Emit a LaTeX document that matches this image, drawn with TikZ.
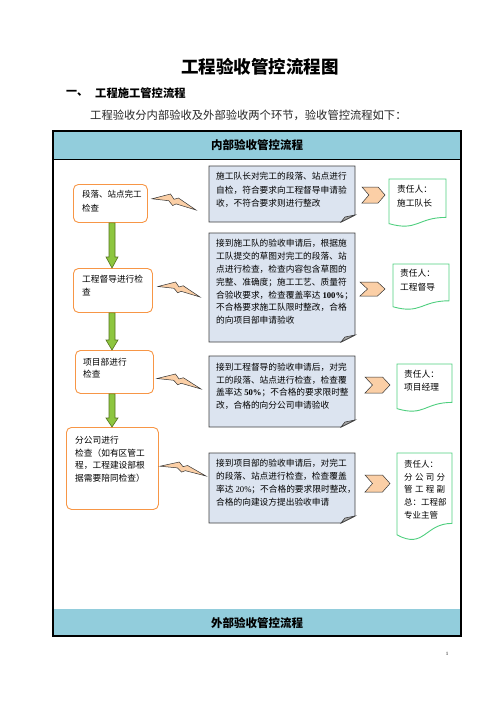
\documentclass[tikz,border=0pt]{standalone}
\usepackage{fontspec}
\setmainfont{Noto Sans CJK SC}
\newfontfamily\numfont{Liberation Serif}
\usetikzlibrary{calc}
\definecolor{hdrblue}{HTML}{92CDDC}
\definecolor{boxorange}{HTML}{F79646}
\definecolor{arrgreen}{HTML}{8DC63F}
\definecolor{arrline}{HTML}{56731F}
\definecolor{cofill}{HTML}{DCE4F0}
\definecolor{coline}{HTML}{3F3F3F}
\definecolor{foldgray}{HTML}{A8A8A8}
\definecolor{peach}{HTML}{FBCFA6}
\definecolor{docgreen}{HTML}{4FCF7F}
\newcommand\calloutshape[4]{%
  \filldraw[fill=cofill,draw=coline,line width=0.9pt] (#1,#2) -- (#3,#2) -- (#3,#4-7) -- (#3-14,#4) -- (#1,#4) -- cycle;
  \filldraw[fill=foldgray,draw=coline,line width=0.6pt] (#3,#4-7) -- (#3-14,#4) -- (#3-10,#4-5) -- cycle;}
\newcommand\greenarrow[3]{%
  \filldraw[fill=arrgreen,draw=arrline,line width=0.6pt] ($(#1)+(-3,0)$) -- ($(#1)+(3,0)$) -- ($(#2)+(3,-#3)$) -- ($(#2)+(6,-#3)$) -- (#2) -- ($(#2)+(-6,-#3)$) -- ($(#2)+(-3,-#3)$) -- cycle;}
\begin{document}
\begin{tikzpicture}[x=1pt,y=-1pt,
  procbox/.style={draw=boxorange,line width=0.9pt,rounded corners=5pt,fill=white,anchor=north west,inner sep=0pt},
  txt/.style={anchor=north west,inner sep=0pt,align=left},
  boltpic/.pic={\filldraw[fill=peach,draw=black!80,line width=0.5pt] (0,0.3) -- (0.42,0) -- (0.5,0.33) -- (0.6,0.25) -- (1,1) -- (0.55,0.62) -- (0.47,0.72) -- (0.38,0.42) -- cycle;},
  chevpic/.pic={\filldraw[fill=peach,draw=black!80,line width=0.5pt] (0,0) -- (0.7,0) -- (1,0.5) -- (0.7,1) -- (0,1) -- (0.3,0.5) -- cycle;},
  docpic/.pic={\filldraw[fill=white,draw=docgreen,line width=0.9pt] (0,0) -- (1,0) -- (1,0.8) .. controls (0.5,0.8) and (0.5,1.1) .. (0,0.93) -- cycle;}]
\useasboundingbox (0,0) rectangle (496,702);

% headings
\node[font=\fontsize{17.5}{20}\selectfont\bfseries] (title) at (260,67) {工程验收管控流程图};
\node[anchor=west,inner sep=0pt,font=\fontsize{11}{13}\selectfont\bfseries] (secnum) at (66,93) {一、};
\node[anchor=west,inner sep=0pt,font=\fontsize{11.3}{13}\selectfont\bfseries] (sec) at (95,93) {工程施工管控流程};
\node[anchor=west,inner sep=0pt,text=black!85,font=\fontsize{11.3}{13}\selectfont] (intro) at (90,115) {工程验收分内部验收及外部验收两个环节，验收管控流程如下：};

% frame and bands
\fill[hdrblue] (53,131) rectangle (461,159);
\fill[hdrblue] (53,609) rectangle (461,636);
\draw[line width=0.8pt] (53,159) -- (461,159);
\draw[line width=1.1pt] (53,131) rectangle (461,636);
\node[font=\fontsize{11.5}{13}\selectfont\bfseries] (inner) at (257,145) {内部验收管控流程};
\node[font=\fontsize{11.5}{13}\selectfont\bfseries] (outer) at (257,623) {外部验收管控流程};

% process boxes
\node[procbox,minimum width=74pt,minimum height=38pt] (b1) at (73,184) {};
\node[procbox,minimum width=79pt,minimum height=44pt] (b2) at (73,268) {};
\node[procbox,minimum width=78pt,minimum height=43pt] (b3) at (75,350) {};
\node[procbox,minimum width=92pt,minimum height=82pt] (b4) at (66,427) {};
\node[txt,font=\fontsize{8.5}{14}\selectfont] (t1) at (82,190) {段落、站点完工\\检查};
\node[txt,font=\fontsize{8.7}{13}\selectfont] (t2) at (82,275) {工程督导进行检\\查};
\node[txt,font=\fontsize{8.7}{12}\selectfont] (t3) at (83,358) {项目部进行\\检查};
\node[txt,font=\fontsize{8.7}{12.6}\selectfont] (t4) at (75,436) {分公司进行\\检查（如有区管工\\程，工程建设部根\\据需要陪同检查）};

% green arrows
\coordinate (ax) at (112,0);
\coordinate (a1s) at (b1.south -| ax);
\coordinate (a1e) at (b2.north -| ax);
\coordinate (a2s) at (b2.south -| ax);
\coordinate (a2e) at (b3.north -| ax);
\coordinate (a3s) at (b3.south -| ax);
\coordinate (a3e) at (b4.north -| ax);
\greenarrow{a1s}{a1e}{11}
\greenarrow{a2s}{a2e}{10}
\greenarrow{a3s}{a3e}{9}

% lightning bolts
\pic[xscale=44,yscale=16] (l1) at (152,194) {boltpic};
\pic[xscale=42,yscale=15] (l2) at (158,282) {boltpic};
\pic[xscale=44,yscale=15] (l3) at (157,374) {boltpic};
\pic[xscale=46,yscale=14] (l4) at (160,462) {boltpic};

% callouts
\calloutshape{209}{166}{355}{222}
\calloutshape{209}{233}{355}{342}
\calloutshape{209}{356}{355}{427}
\calloutshape{209}{453}{355}{523}
\node[txt,font=\fontsize{8.7}{13.5}\selectfont] (c1) at (216,172) {施工队长对完工的段落、站点进行\\自检，符合要求向工程督导申请验\\收，不符合要求则进行整改};
\node[txt,font=\fontsize{8.7}{12.8}\selectfont] (c2) at (216,239.4) {接到施工队的验收申请后，根据施\\工队提交的草图对完工的段落、站\\点进行检查，检查内容包含草图的\\完整、准确度；施工工艺、质量符\\合验收要求，检查覆盖率达 {\numfont\bfseries 100\%}；\\不合格要求施工队限时整改，合格\\的向项目部申请验收};
\node[txt,font=\fontsize{8.7}{12.7}\selectfont] (c3) at (216,363) {接到工程督导的验收申请后，对完\\工的段落、站点进行检查，检查覆\\盖率达 {\numfont\bfseries 50\%}；不合格的要求限时整\\改，合格的向分公司申请验收};
\node[txt,font=\fontsize{8.7}{13}\selectfont] (c4) at (216,459) {接到项目部的验收申请后，对完工\\的段落、站点进行检查，检查覆盖\\率达 {\numfont 20\%}；不合格的要求限时整改，\\合格的向建设方提出验收申请};

% chevrons
\pic[xscale=23,yscale=16] (v1) at (362,187) {chevpic};
\pic[xscale=25,yscale=14] (v2) at (360,282) {chevpic};
\pic[xscale=25,yscale=16] (v3) at (365,377) {chevpic};
\pic[xscale=25,yscale=17] (v4) at (365,475) {chevpic};

% documents
\pic[xscale=57,yscale=48] (d1) at (389,179) {docpic};
\pic[xscale=56,yscale=46] (d2) at (393,264) {docpic};
\pic[xscale=55,yscale=48] (d3) at (397,364) {docpic};
\pic[xscale=55,yscale=88] (d4) at (397,453) {docpic};
\node[txt,font=\fontsize{8.7}{13.4}\selectfont] (r1) at (397,185.4) {责任人：\\施工队长};
\node[txt,font=\fontsize{8.7}{14}\selectfont] (r2) at (400,269) {责任人：\\工程督导};
\node[txt,font=\fontsize{8.7}{13}\selectfont] (r3) at (404,370) {责任人：\\项目经理};
\node[txt,font=\fontsize{8.5}{12.8}\selectfont] (r4) at (404,460) {责任人：\\\hbox to 41pt{分\hfil 公\hfil 司\hfil 分}\\\hbox to 41pt{管\hfil 工\hfil 程\hfil 副}\\总：工程部\\专业主管};

% page number
\node[font=\numfont\fontsize{5}{6}\selectfont] (pg) at (447,654) {1};
\end{tikzpicture}
\end{document}
